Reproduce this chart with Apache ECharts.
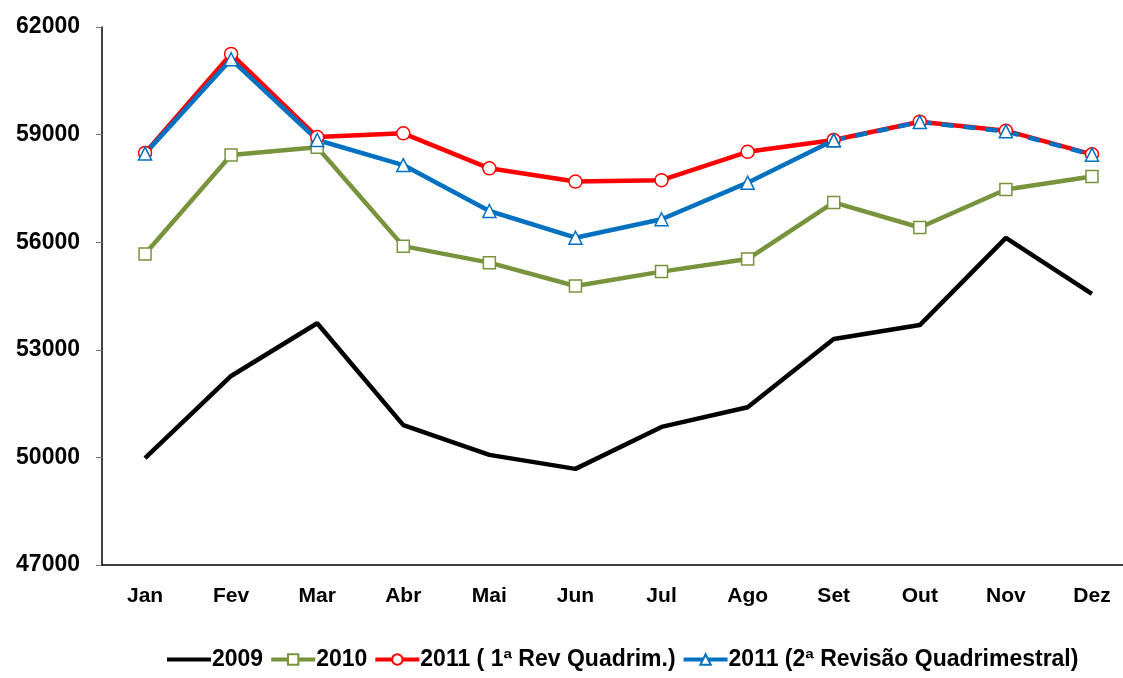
<!DOCTYPE html>
<html>
<head>
<meta charset="utf-8">
<script src="https://cdn.jsdelivr.net/npm/echarts@6/dist/echarts.min.js"></script>
<style>
  html, body { margin: 0; padding: 0; background: #fff; overflow: hidden; }
  #main { width: 1140px; height: 678px; }
</style>
</head>
<body>
<div id="main"></div>
<script>
var meses = ['Jan', 'Fev', 'Mar', 'Abr', 'Mai', 'Jun', 'Jul', 'Ago', 'Set', 'Out', 'Nov', 'Dez'];
var y2009 = [49980, 52270, 53740, 50900, 50070, 49680, 50850, 51400, 53300, 53690, 56120, 54560];
var y2010 = [55670, 58430, 58650, 55890, 55430, 54780, 55180, 55530, 57110, 56410, 57470, 57830];
var rev1 = [58490, 61250, 58930, 59035, 58060, 57690, 57730, 58520, 58850, 59360, 59110, 58450];
var rev2 = [58470, 61100, 58850, 58150, 56870, 56125, 56640, 57660, 58840, 59350, 59090, 58440];
var yTicks = [47000, 50000, 53000, 56000, 59000, 62000];

var nomes = ['2009', '2010', '2011 ( 1ª Rev Quadrim.)', '2011 (2ª Revisão Quadrimestral)'];
var corte = 8; // a partir de Set a linha azul fica tracejada

var rev2solid = rev2.map(function (v, i) { return i <= corte ? v : null; });
var rev2dash = rev2.map(function (v, i) { return i >= corte ? v : null; });

// o grafico original passa um pouco da borda direita; o div e mais largo e fica cortado
var myChart = echarts.init(document.getElementById('main'));
var fonte = '"Liberation Sans", Arial, sans-serif';

var option = {
    animation: false,
    grid: { left: 102, right: 5, top: 27, bottom: 113 },
    legend: {
        data: [
            { name: nomes[0], itemStyle: { opacity: 0 } },
            nomes[1], nomes[2], nomes[3]
        ],
        bottom: 2,
        left: 160,
        itemGap: 6,
        itemWidth: 44,
        itemHeight: 13,
        lineStyle: { width: 4 },
        textStyle: { fontFamily: fonte, fontWeight: 'bold', fontSize: 23, color: '#000', padding: [0, 0, 0, -4] }
    },
    xAxis: {
        type: 'category',
        data: meses,
        boundaryGap: true,
        axisLine: { lineStyle: { color: '#000', width: 1.5 } },
        axisTick: { length: 7, lineStyle: { color: '#777' } },
        axisLabel: { fontFamily: fonte, fontWeight: 'bold', fontSize: 21, color: '#000', margin: 21 }
    },
    yAxis: {
        type: 'value',
        min: yTicks[0],
        max: yTicks[yTicks.length - 1],
        interval: 3000,
        splitLine: { show: false },
        axisLine: { show: true, lineStyle: { color: '#000', width: 1.5 } },
        axisTick: { show: true, length: 6, lineStyle: { color: '#777' } },
        axisLabel: {
            fontFamily: fonte, fontWeight: 'bold', fontSize: 23, color: '#000', margin: 22,
            formatter: function (v) { return String(v); }
        }
    },
    series: [
        {
            name: nomes[0], type: 'line', data: y2009,
            symbol: 'none', color: '#000',
            lineStyle: { color: '#000', width: 4.5 }
        },
        {
            name: nomes[1], type: 'line', data: y2010,
            symbol: 'rect', symbolSize: 12, color: '#77933C',
            itemStyle: { color: '#fff', borderColor: '#77933C', borderWidth: 1.5 },
            lineStyle: { color: '#77933C', width: 4.5 }
        },
        {
            name: nomes[2], type: 'line', data: rev1,
            symbol: 'circle', symbolSize: 13, color: '#FF0000',
            itemStyle: { color: '#fff', borderColor: '#FF0000', borderWidth: 1.5 },
            lineStyle: { color: '#FF0000', width: 4.5 }
        },
        {
            name: nomes[3], type: 'line', data: rev2solid,
            symbol: 'triangle', symbolSize: 13, color: '#0070C0',
            itemStyle: { color: '#fff', borderColor: '#0070C0', borderWidth: 1.5 },
            lineStyle: { color: '#0070C0', width: 4.5 }
        },
        {
            name: nomes[3], type: 'line', data: rev2dash,
            symbol: 'triangle', symbolSize: 13, color: '#0070C0',
            itemStyle: { color: '#fff', borderColor: '#0070C0', borderWidth: 1.5 },
            lineStyle: { color: '#0070C0', width: 4.5, type: [12, 10] }
        }
    ]
};
myChart.setOption(option);
</script>
</body>
</html>
